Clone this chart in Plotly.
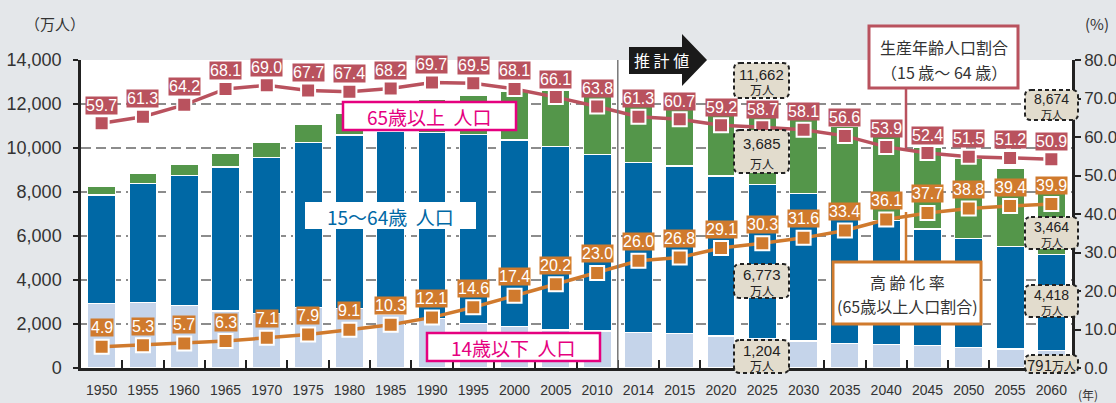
import plotly.graph_objects as go

# ---------------- data ----------------
years = ["1950", "1955", "1960", "1965", "1970", "1975", "1980", "1985", "1990", "1995",
         "2000", "2005", "2010", "2014", "2015", "2020", "2025", "2030", "2035", "2040",
         "2045", "2050", "2055", "2060"]
pop_0_14 = [2940, 2985, 2833, 2590, 2480, 2750, 2710, 2450, 2258, 2030, 1880, 1727, 1682,
            1621, 1576, 1455, 1340, 1227, 1121, 1076, 1015, 939, 864, 780]
pop_15_64 = [4924, 5409, 5909, 6546, 7081, 7492, 7881, 8292, 8454, 8591, 8484, 8334, 8030,
             7727, 7606, 7272, 7008, 6712, 6179, 5644, 5303, 4955, 4651, 4387]
pop_65 = [376, 454, 531, 606, 712, 848, 985, 1138, 1500, 1788, 2197, 2545, 2788,
          3102, 3218, 3433, 3477, 3485, 3700, 3800, 3702, 3626, 3545, 3333]
working_ratio = [59.7, 61.3, 64.2, 68.1, 69.0, 67.7, 67.4, 68.2, 69.7, 69.5, 68.1, 66.1, 63.8,
                 61.3, 60.7, 59.2, 58.7, 58.1, 56.6, 53.9, 52.4, 51.5, 51.2, 50.9]
aging_ratio = [4.9, 5.3, 5.7, 6.3, 7.1, 7.9, 9.1, 10.3, 12.1, 14.6, 17.4, 20.2, 23.0,
               26.0, 26.8, 29.1, 30.3, 31.6, 33.4, 36.1, 37.7, 38.8, 39.4, 39.9]
left_ticks = [0, 2000, 4000, 6000, 8000, 10000, 12000, 14000]
right_ticks = [0, 10, 20, 30, 40, 50, 60, 70, 80]
callout_boxes = [  # (label number, unit)
    ("11,662", "万人"), ("3,685", "万人"), ("6,773", "万人"), ("1,204", "万人"),
    ("8,674", "万人"), ("3,464", "万人"), ("4,418", "万人"), ("791", "万人"),
]

# ---------------- styles ----------------
W, H = 1116, 403
L, R, T, B = 81, 1072, 60, 368
C_LIGHT = "#c5d4ea"
C_BLUE = "#0068a5"
C_GREEN = "#54964a"
C_RED = "#b9525e"
C_ORANGE = "#d07a2d"
C_MAG = "#e5007f"
C_BG = "#e4e7ea"
C_BEIGE = "#e2dccd"
FONT = "Liberation Sans, Arial, Noto Sans CJK JP, sans-serif"
JFONT = "Noto Sans CJK JP, Liberation Sans, sans-serif"


def px(X):
    return (X - L) / (R - L)


def py(Y):
    return (B - Y) / (B - T)


fig = go.Figure()
bar_line = dict(color="white", width=1.2)
fig.add_trace(go.Bar(x=years, y=pop_0_14, marker=dict(color=C_LIGHT, line=bar_line), width=0.68))
fig.add_trace(go.Bar(x=years, y=pop_15_64, marker=dict(color=C_BLUE, line=bar_line), width=0.68))
fig.add_trace(go.Bar(x=years, y=pop_65, marker=dict(color=C_GREEN, line=bar_line), width=0.68))

fig.add_trace(go.Scatter(x=years, y=working_ratio, yaxis="y2", mode="lines+markers",
                         line=dict(color=C_RED, width=3.5),
                         marker=dict(symbol="square", size=14, color=C_RED,
                                     line=dict(color="white", width=2))))
fig.add_trace(go.Scatter(x=years, y=aging_ratio, yaxis="y2", mode="lines+markers",
                         line=dict(color=C_ORANGE, width=3.5),
                         marker=dict(symbol="square", size=14, color=C_ORANGE,
                                     line=dict(color="white", width=2))))
fig.add_trace(go.Scatter(x=[years[0]], y=[0], yaxis="y3", mode="markers",
                         marker=dict(opacity=0), hoverinfo="skip"))

annotations = []
for i, yr in enumerate(years):
    # category axis: numeric-looking names must be given by serial index
    annotations.append(dict(x=i, y=working_ratio[i], xref="x", yref="y2", yshift=18,
                            text=f"{working_ratio[i]:.1f}", showarrow=False, bgcolor=C_RED,
                            borderpad=0, font=dict(family=FONT, size=16, color="white")))
    annotations.append(dict(x=i, y=aging_ratio[i], xref="x", yref="y2", yshift=19,
                            text=f"{aging_ratio[i]:.1f}", showarrow=False, bgcolor=C_ORANGE,
                            borderpad=0, font=dict(family=FONT, size=16, color="white")))

shapes = []


def rect(x0, y0, x1, y1, line_color, lw, fill="white", dash=None):
    shapes.append(dict(type="rect", xref="paper", yref="paper", x0=px(x0), x1=px(x1),
                       y0=py(y1), y1=py(y0), fillcolor=fill, layer="above",
                       line=dict(color=line_color, width=lw, dash=dash)))


def rrect_path(x0, y0, x1, y1, r):
    pts = [("M", x0 + r, y0), ("L", x1 - r, y0), ("Q", x1, y0, x1, y0 + r), ("L", x1, y1 - r),
           ("Q", x1, y1, x1 - r, y1), ("L", x0 + r, y1), ("Q", x0, y1, x0, y1 - r),
           ("L", x0, y0 + r), ("Q", x0, y0, x0 + r, y0)]
    s = ""
    for p in pts:
        cmd = p[0]
        coords = p[1:]
        parts = []
        for k in range(0, len(coords), 2):
            parts.append(f"{px(coords[k]):.5f},{py(coords[k + 1]):.5f}")
        s += cmd + " ".join(parts) + " "
    return s + "Z"


def text(X, Y, t, size, color="#222", family=JFONT):
    annotations.append(dict(x=px(X), y=py(Y), xref="paper", yref="paper", text=t,
                            showarrow=False, xanchor="center", yanchor="middle",
                            font=dict(family=family, size=size, color=color)))


# category label boxes
rect(343, 102, 516, 130, C_MAG, 2.5)
text(429.5, 116.5, "65歳以上  人口", 19, C_MAG)
rect(305, 202, 476, 229, "white", 0)
text(390.5, 216, "15〜64歳  人口", 19, C_BLUE)
rect(427, 333, 600, 361, C_MAG, 2.5)
text(513.5, 347.5, "14歳以下  人口", 19, C_MAG)

# separator between actual and projected
shapes.append(dict(type="line", xref="x", yref="paper", x0=12.5, x1=12.5, y0=0, y1=1,
                   line=dict(color="#777", width=1.5), layer="above"))

# 推計値 arrow
arrow_pts = [(629, 47), (682, 47), (682, 34), (707, 60), (682, 86), (682, 74), (629, 74)]
path = "M" + " L".join(f"{px(a):.5f},{py(b):.5f}" for a, b in arrow_pts) + " Z"
shapes.append(dict(type="path", xref="paper", yref="paper", path=path, fillcolor="#1a1a1a",
                   line=dict(color="#1a1a1a", width=0), layer="above"))
text(661, 60, "推 計 値", 16, "white")

# callout: working-age ratio
shapes.append(dict(type="line", xref="paper", yref="paper", x0=px(906), x1=px(906),
                   y0=py(150), y1=py(88), line=dict(color=C_RED, width=2.5), layer="above"))
rect(869, 26, 1018, 88, C_RED, 3)
text(943.5, 47, "生産年齢人口割合", 16, "#333")
text(943.5, 72, "（15 歳〜 64 歳）", 16, "#333")

# callout: aging ratio
shapes.append(dict(type="line", xref="paper", yref="paper", x0=px(906), x1=px(906),
                   y0=py(262), y1=py(212), line=dict(color=C_ORANGE, width=2.5), layer="above"))
rect(833, 262, 981, 324, C_ORANGE, 3)
text(907, 282, "高 齢 化 率", 16, "#333")
text(907, 306, "(65歳以上人口割合)", 16, "#333")

# dashed value boxes
box_geom = [(734, 63, 789, 98), (734, 130, 789, 173), (734, 264, 789, 298), (734, 340, 789, 373),
            (1025, 90, 1078, 120), (1025, 217, 1078, 249), (1025, 285, 1078, 317),
            (1025, 355, 1078, 373)]
for (num, unit), (x0, y0, x1, y1) in zip(callout_boxes, box_geom):
    shapes.append(dict(type="path", xref="paper", yref="paper",
                       path=rrect_path(x0, y0, x1, y1, 6), fillcolor=C_BEIGE, layer="above",
                       line=dict(color="#222", width=2, dash="4px,3px")))
    cx = (x0 + x1) / 2
    h = y1 - y0
    if h < 25:
        text(cx, (y0 + y1) / 2, f"<span style='font-size:15px'>{num}</span>{unit}", 12,
             "#222")
    elif h >= 33:
        text(cx, y0 + h * 0.32, num, 15, "#222", FONT)
        text(cx, y0 + h * 0.77, unit, 12, "#222")
    else:
        text(cx, y0 + h * 0.30, num, 14, "#222", FONT)
        text(cx, y0 + h * 0.79, unit, 11, "#222")

# axis unit labels
text(55, 23, "（万人）", 15, "#333")
text(1097, 23, "(%)", 15, "#333")
text(1088, 395, "(年)", 12, "#333")

fig.update_layout(
    width=W, height=H, autosize=False,
    margin=dict(l=L, r=W - R, t=T, b=H - B, pad=0),
    paper_bgcolor=C_BG, plot_bgcolor="white",
    barmode="stack", bargap=0.32, showlegend=False,
    font=dict(family=FONT, color="#333"),
    xaxis=dict(type="category", categoryorder="array", categoryarray=years,
               range=[-0.5, 23.5], showline=True, linecolor="#222", linewidth=2.5,
               ticks="inside", tickson="boundaries", ticklen=8, tickwidth=2, tickcolor="#222",
               tickangle=0, automargin=False,
               tickfont=dict(size=14, color="#333"), ticklabelstandoff=7, showgrid=False),
    yaxis=dict(range=[0, 14000], tickvals=left_ticks, tickformat=",", showgrid=True,
               gridcolor="#8c8c8c", griddash="10px,5px", gridwidth=1.5, showline=True,
               linecolor="#222", linewidth=2.5, ticks="outside", ticklen=5, tickwidth=2,
               tickcolor="#222", tickfont=dict(size=18, color="#333"), ticklabelstandoff=8,
               zeroline=False, automargin=False),
    yaxis2=dict(overlaying="y", range=[-0.3, 75.2], visible=False),
    yaxis3=dict(overlaying="y", side="right", anchor="x", range=[0, 80], tickvals=right_ticks,
                tickformat=".1f", showgrid=False, zeroline=False, showline=True,
                linecolor="#222", linewidth=2.5, ticks="outside", ticklen=6, tickwidth=2,
                tickcolor="#222", tickfont=dict(size=17, color="#333"), ticklabelstandoff=0,
                automargin=False),
    annotations=annotations, shapes=shapes,
)

fig.write_html(
    "out.html",
    config={"displayModeBar": False},
    post_script="document.body.style.margin='0';document.body.style.overflow='hidden';"
                "document.body.style.background='#e4e7ea';",
)
